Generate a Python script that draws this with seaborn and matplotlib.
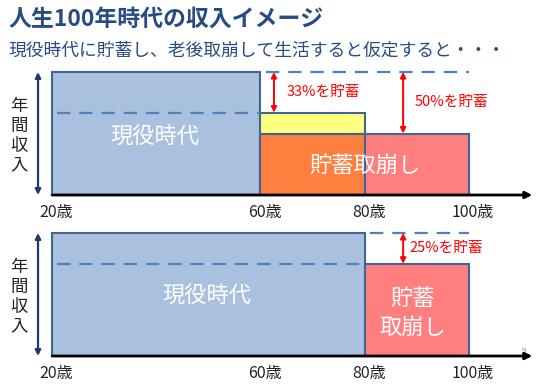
import matplotlib
matplotlib.use("Agg")
import matplotlib.pyplot as plt
import seaborn as sns

sns.set_theme(style="white")
plt.rcParams['font.family'] = ['Noto Sans CJK JP', 'DejaVu Sans']

# ---------------- data ----------------
title = "人生100年時代の収入イメージ"
subtitle = "現役時代に貯蓄し、老後取崩して生活すると仮定すると・・・"
tick_ages = [20, 60, 80, 100]
tick_labels = ["20歳", "60歳", "80歳", "100歳"]
ylabel = "年\n間\n収\n入"

# top scenario (blocks: start age, end age, bottom, top)
top_starts = [20, 60, 60, 80]
top_ends = [60, 80, 80, 100]
top_bottoms = [0.0, 0.5, 0.0, 0.0]
top_tops = [1.0, 0.67, 0.5, 0.5]
top_colors = ["#A9C1DF", "#FFFF80", "#FF7F3F", "#FF7F7F"]

# bottom scenario
bot_starts = [20, 80]
bot_ends = [80, 100]
bot_bottoms = [0.0, 0.0]
bot_tops = [1.0, 0.75]
bot_colors = ["#A9C1DF", "#FF7F7F"]

# dashed reference levels: (start, end, level)
top_dash = [(20, 60, 0.67), (60, 100, 1.0)]
bot_dash = [(20, 80, 0.75), (80, 100, 1.0)]

# savings arrows: (age, top level, bottom level, label)
top_arrows = [(62.6, 1.0, 0.67, "33%を貯蓄"), (87.4, 1.0, 0.5, "50%を貯蓄")]
bot_arrows = [(87.4, 1.0, 0.75, "25%を貯蓄")]

EDGE = "#3F6595"
DASH = "#4F81BD"
NAVY = "#1F3A6A"
TITLE_C = "#264C82"

fig = plt.figure(figsize=(5.5, 3.85), dpi=100)

XLIM = (10.0, 115.6)


def draw_panel(ax, starts, ends, bottoms, tops, colors, dashes, arrows):
    ax.set_xlim(*XLIM)
    for s, e, b, t, c in zip(starts, ends, bottoms, tops, colors):
        ax.bar(s, t - b, width=e - s, bottom=b, align="edge", color=c,
               edgecolor=EDGE, linewidth=1.5, zorder=2)
    for s, e, lvl in dashes:
        ax.plot([s + 1, e], [lvl, lvl], color=DASH, lw=1.6,
                linestyle=(0, (6, 4)), zorder=3)
    for x, yt, yb, lab in arrows:
        ax.annotate("", xy=(x, yb), xytext=(x, yt),
                    arrowprops=dict(arrowstyle="<|-|>", color="red", lw=1.4,
                                    mutation_scale=8, shrinkA=0, shrinkB=0),
                    zorder=4)
    # x axis with arrow
    ax.annotate("", xy=(112.2, 0), xytext=(20, 0),
                arrowprops=dict(arrowstyle="-|>", color="black", lw=2.0,
                                mutation_scale=10, shrinkA=0, shrinkB=0),
                zorder=5)
    # y double arrow
    ax.annotate("", xy=(17.3, 1.0), xytext=(17.3, 0.0),
                arrowprops=dict(arrowstyle="<|-|>", color=NAVY, lw=1.6,
                                mutation_scale=8, shrinkA=0, shrinkB=0))
    ax.text(13.6, 0.48, ylabel, ha="center", va="center", fontsize=12.5,
            linespacing=1.12, color="#222222")
    for a, lab in zip(tick_ages, tick_labels):
        ax.text(a + 0.8, -0.14, lab, ha="center", va="center", fontsize=11.5,
                color="#222222")
    ax.axis("off")


ax1 = fig.add_axes([0, 170 / 385, 1, 150 / 385])
ax1.set_ylim(-20 / 123, 130 / 123)
draw_panel(ax1, top_starts, top_ends, top_bottoms, top_tops, top_colors,
           top_dash, top_arrows)
ax1.text(65.1, 0.84, top_arrows[0][3], color="red", fontsize=10.5,
         ha="left", va="center")
ax1.text(89.7, 0.76, top_arrows[1][3], color="red", fontsize=10.5,
         ha="left", va="center")
ax1.text(39.7, 0.47, "現役時代", color="white", fontsize=16,
         ha="center", va="center", zorder=6)
ax1.text(80.0, 0.235, "貯蓄取崩し", color="white", fontsize=16,
         ha="center", va="center", zorder=6)

ax2 = fig.add_axes([0, 0, 1, 160 / 385])
ax2.set_ylim(-29 / 123, 131 / 123)
draw_panel(ax2, bot_starts, bot_ends, bot_bottoms, bot_tops, bot_colors,
           bot_dash, bot_arrows)
ax2.text(88.6, 0.88, bot_arrows[0][3], color="red", fontsize=10.5,
         ha="left", va="center")
ax2.text(49.7, 0.49, "現役時代", color="white", fontsize=16,
         ha="center", va="center", zorder=6)
ax2.text(89.3, 0.47, "貯蓄", color="white", fontsize=16,
         ha="center", va="center", zorder=6)
ax2.text(89.3, 0.23, "取崩し", color="white", fontsize=16,
         ha="center", va="center", zorder=6)
ax2.text(110.6, 0.04, "9", color="#888888", fontsize=5.5, ha="center",
         va="center")

fig.text(8 / 550, 1 - 19 / 385, title, color=TITLE_C, fontsize=16.5,
         fontweight="bold", ha="left", va="center")
fig.text(8 / 550, 1 - 51 / 385, subtitle, color=TITLE_C, fontsize=12.8,
         ha="left", va="center")

fig.savefig("out.png", dpi=100)
